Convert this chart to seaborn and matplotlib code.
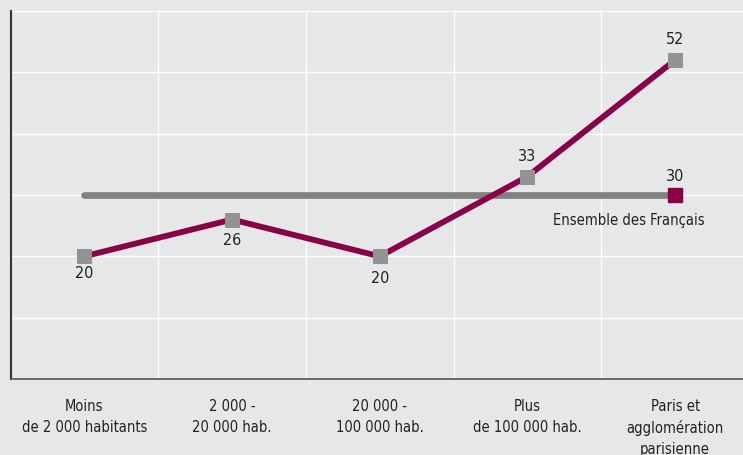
import numpy as np
import pandas as pd
import matplotlib.pyplot as plt
import seaborn as sns

categories = ['Moins\nde 2 000 habitants', '2 000 -\n20 000 hab.', '20 000 -\n100 000 hab.',
              'Plus\nde 100 000 hab.', 'Paris et\nagglomération\nparisienne']
values = [20, 26, 20, 33, 52]
ensemble = 30
ensemble_label = 'Ensemble des Français'

bg = '#e6e7e9'
magenta = '#8a0049'
marker_gray = '#939393'
line_gray = '#808080'
text_color = '#222222'

sns.set_theme(style='darkgrid', rc={'axes.facecolor': bg, 'figure.facecolor': bg,
                                    'grid.color': 'white', 'grid.linewidth': 1.0})
plt.rcParams['font.family'] = ['Liberation Sans Narrow', 'DejaVu Sans']
plt.rcParams['font.stretch'] = 'condensed'
fs = 10.5

df = pd.DataFrame({'pos': np.arange(len(categories)), 'value': values})
ref = pd.DataFrame({'pos': [0, len(categories) - 1], 'value': [ensemble, ensemble]})

fig = plt.figure(figsize=(7.43, 4.56), dpi=100)
ax = fig.add_axes([10.5 / 743, 1 - 380 / 456, 1 - 10.5 / 743, (380 - 12) / 456])

sns.lineplot(data=ref, x='pos', y='value', color=line_gray, linewidth=4.8, ax=ax, zorder=2)
sns.lineplot(data=df, x='pos', y='value', color=magenta, linewidth=4.2, marker='s',
             markersize=10, markerfacecolor=marker_gray, markeredgecolor=marker_gray, ax=ax, zorder=3)
ax.plot(ref['pos'].iloc[-1], ensemble, marker='s', markersize=10, color=magenta,
        linestyle='none', zorder=4)

# value labels: below for the first three, above for the last two
label_offsets = [-6, -9, -10, 10, 10]
for x, v, off in zip(df['pos'], values, label_offsets):
    ax.annotate(str(v), (x, v), xytext=(0, off), textcoords='offset points',
                ha='center', va='bottom' if off > 0 else 'top', fontsize=fs + 1, color=text_color)
ax.annotate(str(ensemble), (len(categories) - 1, ensemble), xytext=(0, 9),
            textcoords='offset points', ha='center', va='bottom', fontsize=fs + 1, color=text_color)
ax.annotate(ensemble_label, (len(categories) - 1, ensemble), xytext=(-33, -12),
            textcoords='offset points', ha='center', va='top', fontsize=fs, color=text_color)

ax.set_xlim(-0.5, 4.46)
ax.set_ylim(0, 60)
ax.set_yticks(range(10, 61, 10))
ax.set_yticklabels([])
ax.set_xticks(df['pos'])
ax.set_xticklabels(categories, fontsize=fs, color=text_color, linespacing=1.45)
ax.set_xticks(np.arange(0.5, len(categories) - 1, 1), minor=True)
ax.grid(False, axis='x', which='major')
ax.grid(True, axis='x', which='minor', color='white', linewidth=1.0)
ax.tick_params(axis='both', which='both', length=0)
ax.tick_params(axis='x', pad=14)
ax.set_xlabel('')
ax.set_ylabel('')

for side in ['top', 'right']:
    ax.spines[side].set_visible(False)
ax.spines['left'].set_color('#333333')
ax.spines['left'].set_linewidth(1.5)
ax.spines['bottom'].set_color('#555555')
ax.spines['bottom'].set_linewidth(1.2)

plt.savefig('out.png', dpi=100, facecolor=bg)
